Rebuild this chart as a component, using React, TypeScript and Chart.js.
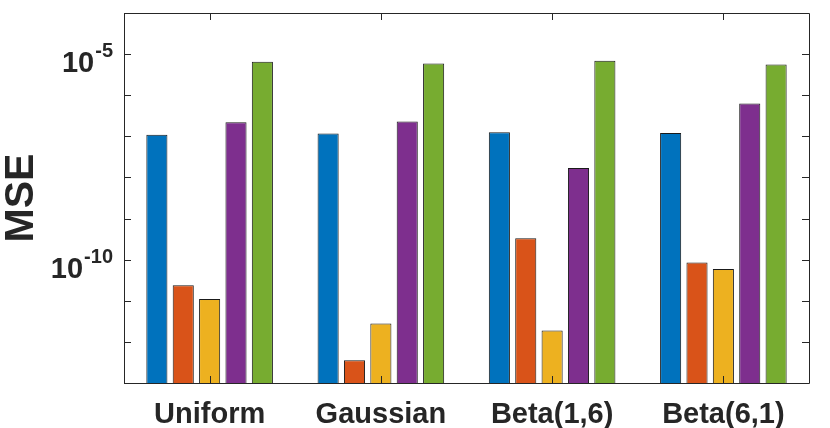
import { useEffect, useRef } from "react";
import { Chart, registerables } from "chart.js";

Chart.register(...registerables);

const categories = ["Uniform", "Gaussian", "Beta(1,6)", "Beta(6,1)"];
const seriesA = [1.1e-7, 1.17e-7, 1.26e-7, 1.2e-7];
const seriesB = [2.4e-11, 3.6e-13, 3.3e-10, 8.5e-11];
const seriesC = [1.1e-11, 2.8e-12, 1.9e-12, 5.9e-11];
const seriesD = [2.2e-7, 2.3e-7, 1.7e-8, 6.3e-7];
const seriesE = [6.5e-6, 5.9e-6, 6.9e-6, 5.6e-6];
const colors = ["#0072BD", "#D95319", "#EDB120", "#7E2F8E", "#77AC30"];

const yMin = 1e-13;
const yMax = 1e-4;
const tickExponents = [-13, -12, -11, -10, -9, -8, -7, -6, -5, -4];
const labelExponents = [-10, -5];

const FONT = '"Liberation Sans", Arial, Helvetica, sans-serif';
const INK = "#262626";

// matlab-ish box with inward ticks, y labels with exponents, and the y title
const axesBox = {
  id: "axesBox",
  afterDraw(chart: Chart) {
    const { ctx, chartArea } = chart;
    const { left, right, top, bottom } = chartArea;
    const x = chart.scales.x;
    const y = chart.scales.y;
    const tl = 7;
    ctx.save();
    ctx.strokeStyle = INK;
    ctx.lineWidth = 1;
    ctx.beginPath();
    ctx.rect(Math.round(left) + 0.5, Math.round(top) + 0.5, Math.round(right - left), Math.round(bottom - top));
    for (const e of tickExponents) {
      const py = Math.round(y.getPixelForValue(Math.pow(10, e))) + 0.5;
      ctx.moveTo(left, py);
      ctx.lineTo(left + tl, py);
      ctx.moveTo(right, py);
      ctx.lineTo(right - tl, py);
    }
    categories.forEach((_, i) => {
      const px = Math.round(x.getPixelForValue(i)) + 0.5;
      ctx.moveTo(px, top);
      ctx.lineTo(px, top + tl);
      ctx.moveTo(px, bottom);
      ctx.lineTo(px, bottom - tl);
    });
    ctx.stroke();

    ctx.fillStyle = INK;
    ctx.textBaseline = "alphabetic";
    for (const e of labelExponents) {
      const py = y.getPixelForValue(Math.pow(10, e));
      const exp = "-" + String(-e);
      ctx.font = `bold 20px ${FONT}`;
      const ew = ctx.measureText(exp).width;
      ctx.textAlign = "right";
      const rx = left - 11;
      ctx.fillText(exp, rx, py + 3);
      ctx.font = `bold 29px ${FONT}`;
      ctx.fillText("10", rx - ew - 1, py + 18);
    }

    ctx.translate(33, (top + bottom) / 2);
    ctx.rotate(-Math.PI / 2);
    ctx.textAlign = "center";
    ctx.textBaseline = "alphabetic";
    ctx.font = `bold 41px ${FONT}`;
    ctx.fillText("MSE", 0, 0);
    ctx.restore();
  },
};

export default function App() {
  const canvasRef = useRef<HTMLCanvasElement>(null);

  useEffect(() => {
    const ctx = canvasRef.current?.getContext("2d");
    if (!ctx) return;

    const values = [seriesA, seriesB, seriesC, seriesD, seriesE];
    const chart = new Chart(ctx, {
      type: "bar",
      data: {
        labels: categories,
        datasets: values.map((data, i) => ({
          data,
          backgroundColor: colors[i],
          borderColor: "#1a1a1a",
          borderWidth: 1,
          categoryPercentage: 0.77,
          barPercentage: 0.8,
        })),
      },
      options: {
        animation: false,
        responsive: false,
        devicePixelRatio: 1,
        layout: { padding: { left: 124, right: 21, top: 13, bottom: 0 } },
        plugins: {
          legend: { display: false },
          tooltip: { enabled: false },
        },
        scales: {
          x: {
            grid: { display: false, drawTicks: false },
            border: { display: false },
            ticks: {
              color: INK,
              padding: 15,
              font: { family: FONT, size: 29, weight: "bold" },
              maxRotation: 0,
            },
            afterFit(scale) {
              scale.height = 45;
            },
          },
          y: {
            type: "logarithmic",
            display: false,
            min: yMin,
            max: yMax,
          },
        },
      },
      plugins: [axesBox],
    });

    return () => {
      chart.destroy();
    };
  }, []);

  return (
    <div style={{ position: "absolute", left: 0, top: 0, width: 830, height: 428, background: "#fff" }}>
      <canvas ref={canvasRef} width={830} height={428} />
    </div>
  );
}
